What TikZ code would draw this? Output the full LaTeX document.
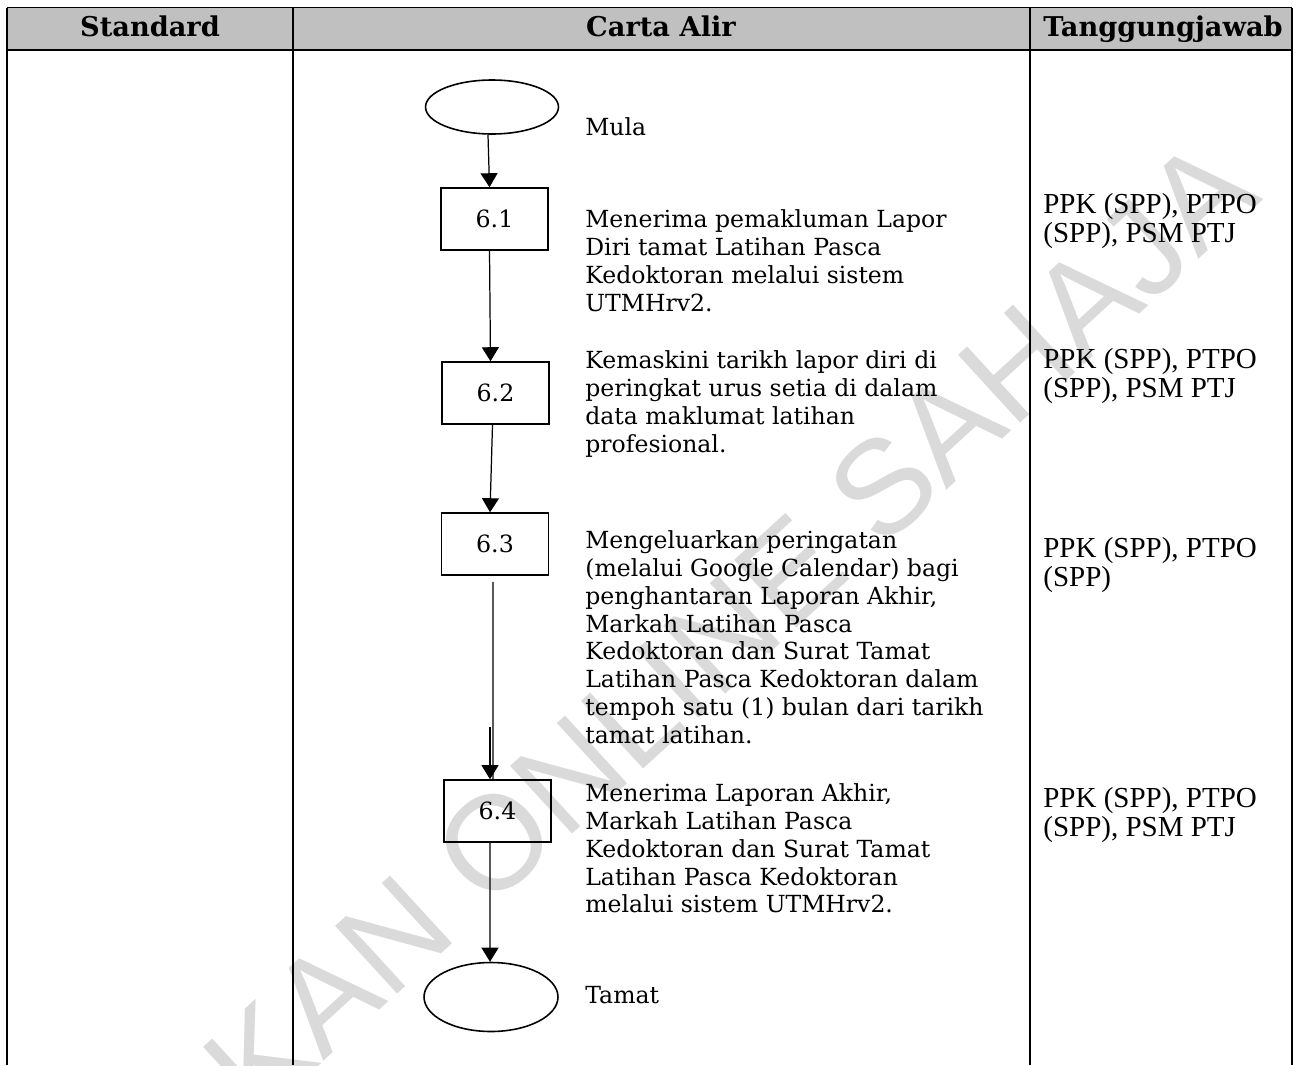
\documentclass[tikz,border=0pt]{standalone}
\usepackage{fontspec}
\setmainfont{DejaVu Serif}
\newfontfamily\rolefont{Liberation Serif}
\newfontfamily\markfont{Liberation Sans}
\usetikzlibrary{positioning, arrows.meta, shapes.geometric}
\definecolor{headgray}{RGB}{192,192,192}
\definecolor{markgray}{RGB}{218,218,218}

\begin{document}
\begin{tikzpicture}[x=0.02cm, y=-0.02cm,
    grid/.style={line width=1.1pt},
    terminal/.style={draw, ellipse, line width=0.9pt, minimum width=2.66cm, minimum height=1.08cm, inner sep=0pt},
    stepbox/.style={draw, rectangle, line width=0.9pt, minimum width=2.14cm, minimum height=1.24cm, inner sep=0pt, font=\fontsize{13.5}{15.9}\selectfont},
    steptext/.style={anchor=north west, align=left, inner sep=0pt, font=\fontsize{13.4}{15.9}\selectfont},
    roletext/.style={anchor=north west, align=left, inner sep=0pt, font=\rolefont\fontsize{16.5}{16.4}\selectfont},
    headtext/.style={anchor=base, font=\bfseries\fontsize{15.5}{17}\selectfont},
    flow/.style={-{Triangle[length=0.28cm, width=0.34cm]}, line width=0.7pt},
    flowline/.style={line width=0.7pt}]
    \useasboundingbox (0,0) rectangle (1298,1065);
    \begin{scope}
        \clip (0,0) rectangle (1298,1065);
        \node[rotate=42.5, text=markgray, font=\markfont\fontsize{76}{76}\selectfont] (mark) at (730,627) {KAN ONLINE SAHAJA};
    \end{scope}
    \fill[headgray] (7,7.5) rectangle (1292,50);
    \draw[grid] (7,7.5) -- (1292,7.5);
    \draw[grid] (7,50) -- (1292,50);
    \foreach \x in {7,293,1030,1292}
        \draw[grid] (\x,7.5) -- (\x,1065);
    \node[headtext] (hstd) at (150,36) {Standard};
    \node[headtext] (hflow) at (661,36) {Carta Alir};
    \node[headtext] (hrole) at (1163,36) {Tanggungjawab};
    \node[terminal] (mula) at (492,107) {};
    \node[stepbox] (b61) at (494.5,219) {6.1};
    \node[stepbox] (b62) at (495.5,393) {6.2};
    \node[stepbox] (b63) at (495,544) {6.3};
    \node[stepbox] (b64) at (497.5,811) {6.4};
    \node[terminal, minimum width=2.68cm, minimum height=1.38cm] (tamat) at (491,997) {};
    \node[steptext] (tmula) at (585,117) {Mula};
    \node[steptext] (t61) at (585,209) {Menerima pemakluman Lapor\\Diri tamat Latihan Pasca\\Kedoktoran melalui sistem\\UTMHrv2.};
    \node[steptext] (t62) at (585,350) {Kemaskini tarikh lapor diri di\\peringkat urus setia di dalam\\data maklumat latihan\\profesional.};
    \node[steptext] (t63) at (585,530) {Mengeluarkan peringatan\\(melalui Google Calendar) bagi\\penghantaran Laporan Akhir,\\Markah Latihan Pasca\\Kedoktoran dan Surat Tamat\\Latihan Pasca Kedoktoran dalam\\tempoh satu (1) bulan dari tarikh\\tamat latihan.};
    \node[steptext] (t64) at (585,783) {Menerima Laporan Akhir,\\Markah Latihan Pasca\\Kedoktoran dan Surat Tamat\\Latihan Pasca Kedoktoran\\melalui sistem UTMHrv2.};
    \node[steptext] (ttamat) at (585,986) {Tamat};
    \node[roletext] (r61) at (1043,193) {PPK (SPP), PTPO\\(SPP), PSM PTJ};
    \node[roletext] (r62) at (1043,348) {PPK (SPP), PTPO\\(SPP), PSM PTJ};
    \node[roletext] (r63) at (1043,537) {PPK (SPP), PTPO\\(SPP)};
    \node[roletext] (r64) at (1043,787) {PPK (SPP), PTPO\\(SPP), PSM PTJ};
    \coordinate (dup) at (490,727);
    \draw[flow] ([xshift=-0.08cm]mula.south) -- ([xshift=-0.1cm]b61.north);
    \draw[flow] ([xshift=-0.1cm]b61.south) -- ([xshift=-0.1cm]b62.north);
    \draw[flow] ([xshift=-0.06cm]b62.south) -- ([xshift=-0.1cm]b63.north);
    \draw[flowline] ([shift={(-0.04cm,-0.12cm)}]b63.south) -- ([xshift=-0.09cm]b64.north);
    \draw[flow] (dup) -- (dup |- b64.north);
    \draw[flow] ([xshift=-0.15cm]b64.south) -- ([xshift=-0.02cm]tamat.north);
\end{tikzpicture}
\end{document}
